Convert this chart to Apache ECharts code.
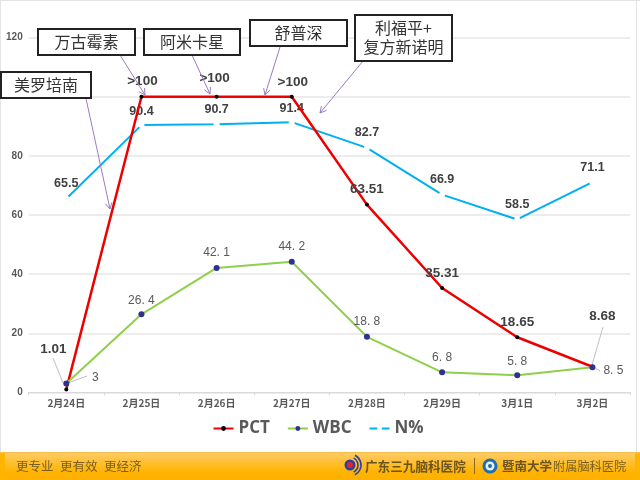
<!DOCTYPE html>
<html lang="zh">
<head>
    <meta charset="UTF-8"/>
    <script type="text/javascript" src="https://cdn.jsdelivr.net/npm/echarts@6/dist/echarts.min.js"></script>
    <title>PCT WBC N%</title>
    <style>
        html, body { margin: 0; padding: 0; background: #fff; }
        #main { width: 640px; height: 480px; }
    </style>
</head>
<body>
<div id="main"></div>
<script type="text/javascript">
    var categories = ['2月24日', '2月25日', '2月26日', '2月27日', '2月28日', '2月29日', '3月1日', '3月2日']
    var yTicks = [0, 20, 40, 60, 80, 100, 120]

    // >100 is drawn at 100, as in the picture
    var pctValues = [1.01, 100, 100, 100, 63.51, 35.31, 18.65, 8.68]
    var wbcValues = [3, 26.4, 42.1, 44.2, 18.8, 6.8, 5.8, 8.5]
    var nValues = [65.5, 90.4, 90.7, 91.4, 82.7, 66.9, 58.5, 71.1]

    var pctTexts = ['1.01', '>100', '>100', '>100', '63.51', '35.31', '18.65', '8.68']
    var wbcTexts = ['3', '26. 4', '42. 1', '44. 2', '18. 8', '6. 8', '5. 8', '8. 5']
    var nTexts = ['65.5', '90.4', '90.7', '91.4', '82.7', '66.9', '58.5', '71.1']

    // label offset from its point, px
    var pctOffsets = [[-13, -40], [1, -15], [-2, -18], [1, -14], [0, -15], [0, -15], [0, -15], [10, -50]]
    var wbcOffsets = [[29, -6], [0, -14], [0, -15], [0, -15], [0, -15], [0, -15], [0, -14], [21, 3]]
    var nOffsets = [[0, -15], [0, -14], [0, -15], [0, -14], [0, -15], [0, -15], [0, -15], [0, -15]]

    var cjk = '"Noto Sans CJK SC", sans-serif'
    var latin = '"Liberation Sans", Arial, sans-serif'

    function makeData(values, texts, offsets, labelStyle) {
        var out = []
        for (var i in values) {
            out.push({
                value: values[i],
                label: Object.assign({
                    show: true,
                    position: 'inside',
                    offset: offsets[i],
                    formatter: texts[i]
                }, labelStyle)
            })
        }
        return out
    }

    function box(x, y, w, h) {
        return {
            type: 'rect', z: 100,
            shape: { x: x, y: y, width: w, height: h },
            style: { fill: '#fff', stroke: '#222', lineWidth: 2 }
        }
    }

    function boxText(cx, cy, t) {
        return {
            type: 'text', z: 101, x: cx, y: cy,
            style: { text: t, fill: '#333', font: '16px ' + cjk, align: 'center', verticalAlign: 'middle' }
        }
    }

    function arrow(x1, y1, x2, y2) {
        var a = Math.atan2(y2 - y1, x2 - x1)
        var s = 7
        return [{
            type: 'line', z: 90,
            shape: { x1: x1, y1: y1, x2: x2, y2: y2 },
            style: { stroke: '#9a7cc0', lineWidth: 1 }
        }, {
            type: 'polyline', z: 90,
            shape: { points: [
                [x2 - s * Math.cos(a - 0.5), y2 - s * Math.sin(a - 0.5)],
                [x2, y2],
                [x2 - s * Math.cos(a + 0.5), y2 - s * Math.sin(a + 0.5)]
            ] },
            style: { stroke: '#9a7cc0', lineWidth: 1, fill: null }
        }]
    }

    function leader(x1, y1, x2, y2) {
        return {
            type: 'line', z: 3,
            shape: { x1: x1, y1: y1, x2: x2, y2: y2 },
            style: { stroke: '#bfbfbf', lineWidth: 1 }
        }
    }

    function footText(x, t, size, color, weight) {
        return {
            type: 'text', z: 61, x: x, y: 466,
            style: {
                text: t, fill: color, align: 'left', verticalAlign: 'middle',
                font: (weight || 'normal') + ' ' + size + 'px ' + cjk
            }
        }
    }

    function logoArc(r) {
        return {
            type: 'arc', z: 61,
            shape: { cx: 350, cy: 465, r: r, startAngle: -1.1, endAngle: 1.1 },
            style: { stroke: '#2f3f9e', lineWidth: 1.6, fill: null }
        }
    }

    var graphics = [
        // slide frame
        { type: 'line', z: 0, shape: { x1: 0, y1: 0.5, x2: 640, y2: 0.5 }, style: { stroke: '#e4e4e4', lineWidth: 1 } },
        { type: 'line', z: 0, shape: { x1: 0.5, y1: 0, x2: 0.5, y2: 452 }, style: { stroke: '#e4e4e4', lineWidth: 1 } },
        { type: 'line', z: 0, shape: { x1: 636.5, y1: 0, x2: 636.5, y2: 452 }, style: { stroke: '#e4e4e4', lineWidth: 1 } },

        // footer band
        { type: 'rect', z: 60, shape: { x: 0, y: 452, width: 640, height: 28 }, style: { fill: '#ffb400' } },
        { type: 'rect', z: 60, shape: { x: 0, y: 452, width: 640, height: 1.5 }, style: { fill: '#f5c04a' } },
        {
            type: 'rect', z: 60,
            shape: { x: 5, y: 453, width: 630, height: 27 },
            style: { fill: new echarts.graphic.LinearGradient(0, 0, 0, 1, [
                { offset: 0, color: '#ffcb66' },
                { offset: 0.7, color: '#ffb400' },
                { offset: 1, color: '#ffb000' }
            ]) }
        },
        footText(16, '更专业', 12.5, '#7a6020'),
        footText(60, '更有效', 12.5, '#7a6020'),
        footText(104, '更经济', 12.5, '#7a6020'),

        { type: 'circle', z: 61, shape: { cx: 350, cy: 465, r: 5.5 }, style: { fill: '#2f3f9e' } },
        { type: 'circle', z: 62, shape: { cx: 350, cy: 465, r: 3 }, style: { fill: '#d8263c' } },
        logoArc(8),
        logoArc(11),
        footText(365, '广东三九脑科医院', 12.6, '#6b5420', 'bold'),
        { type: 'line', z: 61, shape: { x1: 474.5, y1: 458, x2: 474.5, y2: 474 }, style: { stroke: '#8a6a20', lineWidth: 1 } },
        { type: 'circle', z: 61, shape: { cx: 490, cy: 466, r: 7.5 }, style: { fill: '#1c6fb0' } },
        { type: 'circle', z: 62, shape: { cx: 490, cy: 466, r: 4.5 }, style: { fill: '#e8eef2' } },
        { type: 'circle', z: 63, shape: { cx: 490, cy: 466, r: 2 }, style: { fill: '#1c6fb0' } },
        footText(502, '暨南大学', 12.5, '#6b5420', 'bold'),
        footText(553, '附属脑科医院', 12.2, '#7a6020'),

        // value label leaders
        leader(53, 358, 63, 383),
        leader(87, 376, 68, 383),
        leader(603, 327, 592, 365),
        leader(600, 371, 595, 368),

        // drug callouts
        box(1, 72, 90, 26), boxText(46, 85, '美罗培南'),
        box(38, 29, 97, 26), boxText(86.5, 42, '万古霉素'),
        box(144, 29, 96, 26), boxText(192, 42, '阿米卡星'),
        box(250, 20, 97, 26), boxText(298.5, 33, '舒普深'),
        box(355, 15, 97, 46),
        boxText(403.5, 28, '利福平+'),
        boxText(403.5, 47, '复方新诺明')
    ].concat(
        arrow(85, 94, 110, 209),
        arrow(120, 55, 145, 95),
        arrow(192, 55, 210, 94),
        arrow(280, 47, 265, 95),
        arrow(363, 61, 320, 113)
    )

    var pctLabel = { color: '#404040', fontFamily: latin, fontWeight: 'bold', fontSize: 13.5 }
    var wbcLabel = { color: '#595959', fontFamily: latin, fontSize: 12 }
    var nLabel = { color: '#404040', fontFamily: latin, fontWeight: 'bold', fontSize: 12.5 }

    var option = {
        animation: false,
        backgroundColor: '#fff',
        textStyle: { fontFamily: latin },
        grid: { left: 28.7, right: 10, top: 37.6, bottom: 87.6 },
        legend: {
            left: 212.5, top: 420, padding: 0, itemWidth: 20, itemHeight: 6, itemGap: 17,
            textStyle: { fontFamily: '"Open Sans", sans-serif', fontSize: 17, fontWeight: 'bold', color: '#595959' },
            data: [{ name: 'PCT' }, { name: 'WBC' }, { name: 'N%' }]
        },
        xAxis: {
            type: 'category',
            data: categories,
            boundaryGap: true,
            axisLine: { lineStyle: { color: '#d9d9d9', width: 1 } },
            axisTick: { show: true, length: 3, lineStyle: { color: '#d9d9d9' } },
            axisLabel: { color: '#595959', fontSize: 10, fontWeight: 'bold', margin: 6, fontFamily: cjk }
        },
        yAxis: {
            type: 'value',
            min: yTicks[0],
            max: yTicks[yTicks.length - 1],
            interval: yTicks[1] - yTicks[0],
            axisLine: { show: false },
            axisTick: { show: false },
            splitLine: { lineStyle: { color: '#e6e6e6', width: 1.5 } },
            axisLabel: { color: '#595959', fontSize: 10, fontWeight: 'bold', margin: 6 }
        },
        series: [{
            name: 'PCT', type: 'line', z: 5,
            data: makeData(pctValues, pctTexts, pctOffsets, pctLabel),
            symbol: 'circle', symbolSize: 4,
            itemStyle: { color: '#000' },
            lineStyle: { color: '#ee0000', width: 2.5 }
        }, {
            name: 'WBC', type: 'line', z: 6,
            data: makeData(wbcValues, wbcTexts, wbcOffsets, wbcLabel),
            symbol: 'circle', symbolSize: 6,
            itemStyle: { color: '#2e3192' },
            lineStyle: { color: '#8fcf4a', width: 2 }
        }, {
            // white dots leave the small gaps the line has at each point
            name: 'N%', type: 'line', z: 4,
            data: makeData(nValues, nTexts, nOffsets, nLabel),
            symbol: 'circle', symbolSize: 6,
            itemStyle: { color: '#fff' },
            lineStyle: { color: '#00b0f0', width: 2 }
        }],
        graphic: graphics
    }

    var myChart = echarts.init(document.getElementById('main'))
    myChart.setOption(option)
</script>
</body>
</html>
